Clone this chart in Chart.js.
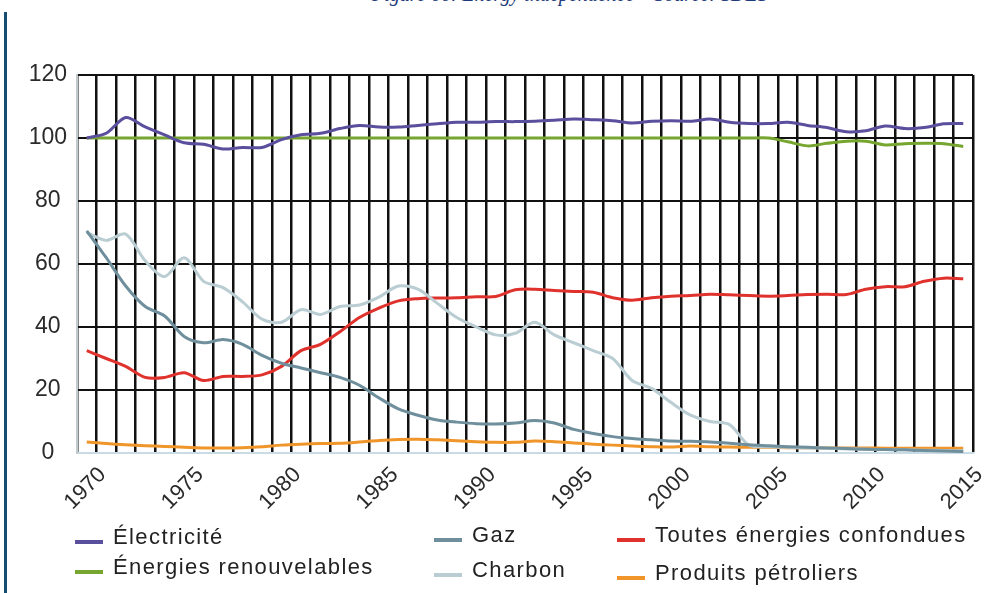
<!DOCTYPE html>
<html lang="fr">
<head>
<meta charset="utf-8">
<title>Indépendance énergétique</title>
<script src="https://cdn.jsdelivr.net/npm/chart.js@4.4.0/dist/chart.umd.min.js"></script>
<style>
  body { margin: 0; background: #fff; width: 1003px; height: 593px; overflow: hidden; position: relative; }
  #titre { position: absolute; left: 372px; top: -16px; font: italic 20px "Liberation Serif", serif; color: #1f3a7a; white-space: nowrap; line-height: 20px; }
  #barre { position: absolute; left: 4px; top: 12px; width: 3px; height: 581px; background: #144d6e; }
  #box { position: absolute; left: 0; top: 0; width: 1003px; height: 593px; }
  .leg { position: absolute; font: 22px "Liberation Sans", Arial, sans-serif; letter-spacing: 1.4px; color: #222; white-space: nowrap; line-height: 24px; }
  .leg .m { position: absolute; top: 15px; width: 28px; height: 4px; }
</style>
</head>
<body>
<div id="titre">Figure 66: Energy independence – Source: SDES</div>
<div id="barre"></div>
<div id="box"><canvas id="chart"></canvas></div>
<div id="legende"></div>
<script>
  // Données (taux d'indépendance énergétique, %)
  const annees = [];
  for (let a = 1970; a <= 2015; a++) annees.push(a);

  const electricite = [100, 101.5, 106.5, 103.5, 101, 98.5, 98, 96.5, 97, 97,
    99.5, 101, 101.5, 103, 104, 103.5, 103.5, 104, 104.5, 105,
    105, 105.2, 105.2, 105.3, 105.6, 106, 105.8, 105.5, 104.8, 105.3,
    105.5, 105.3, 106, 105, 104.6, 104.6, 105, 104, 103.3, 102,
    102.3, 103.8, 103, 103.3, 104.5, 104.6];

  const renouvelables = [100, 100, 100, 100, 100, 100, 100, 100, 100, 100,
    100, 100, 100, 100, 100, 100, 100, 100, 100, 100,
    100, 100, 100, 100, 100, 100, 100, 100, 100, 100,
    100, 100, 100, 100, 100, 100, 98.8, 97.5, 98.3, 99,
    99, 97.8, 98.2, 98.3, 98.2, 97.3];

  const gaz = [70.5, 62, 53, 46.5, 43.5, 37, 35, 36, 34.5, 31,
    28.5, 27, 25.5, 24, 21.5, 17.5, 14, 12, 10.5, 9.8,
    9.3, 9.2, 9.5, 10.3, 9.5, 7.5, 6.2, 5.2, 4.6, 4.2,
    3.8, 3.7, 3.5, 3.1, 2.6, 2.3, 2, 1.8, 1.6, 1.4,
    1.2, 1.1, 1, 0.8, 0.6, 0.5];

  const charbon = [70, 67.5, 69.5, 61, 56, 62, 54.5, 52.5, 48, 42.5,
    41.5, 45.5, 44, 46.5, 47, 49.5, 53, 52, 47.5, 43,
    40, 37.5, 38, 41.5, 37.5, 35, 32.5, 30, 23, 20.5,
    16, 12, 10, 9, 2.5, 2, 1.8, 1.6, 1.5, 1.3,
    1.2, 1.1, 1, 0.9, 0.8, 0.7];

  const toutes = [32.5, 30, 27.5, 24, 24, 25.5, 23, 24.3, 24.3, 24.8,
    27.5, 32.5, 34.5, 38.5, 43, 46, 48.3, 49, 49.2, 49.3,
    49.6, 49.7, 51.8, 52, 51.6, 51.3, 51, 49.3, 48.5, 49.3,
    49.8, 50, 50.4, 50.2, 50, 49.8, 50, 50.3, 50.4, 50.3,
    52, 52.8, 52.8, 54.5, 55.5, 55.3];

  const petroliers = [3.5, 3, 2.6, 2.3, 2.1, 1.8, 1.6, 1.6, 1.7, 2,
    2.5, 2.8, 3, 3.1, 3.5, 4, 4.3, 4.4, 4.2, 3.9,
    3.6, 3.4, 3.4, 3.8, 3.6, 3.2, 2.8, 2.5, 2.2, 2,
    1.9, 2.2, 2, 1.9, 1.8, 1.8, 1.7, 1.7, 1.6, 1.6,
    1.6, 1.5, 1.5, 1.5, 1.5, 1.5];

  const yTicks = [0, 20, 40, 60, 80, 100, 120];

  // Séries + position de la légende (x, y)
  const series = [
    { label: "Électricité", data: electricite, color: "#5a4f9c", leg: [75, 525] },
    { label: "Énergies renouvelables", data: renouvelables, color: "#76a530", leg: [75, 555] },
    { label: "Gaz", data: gaz, color: "#6f8f9c", leg: [434, 523] },
    { label: "Charbon", data: charbon, color: "#b9cdd2", leg: [434, 558] },
    { label: "Toutes énergies confondues", data: toutes, color: "#e0322d", leg: [617, 523] },
    { label: "Produits pétroliers", data: petroliers, color: "#f0952a", leg: [617, 561] },
  ];

  const ctx = document.getElementById("chart").getContext("2d");
  const chart = new Chart(ctx, {
    type: "line",
    data: {
      labels: annees,
      datasets: series.map((s) => ({
        label: s.label,
        data: s.data,
        borderColor: s.color,
        backgroundColor: s.color,
        borderWidth: 3,
        pointRadius: 0,
        tension: 0.3,
        fill: false,
      })),
    },
    options: {
      responsive: true,
      maintainAspectRatio: false,
      animation: false,
      layout: { padding: { top: 75, right: 30, left: 0, bottom: 0 } },
      plugins: { legend: { display: false }, tooltip: { enabled: false } },
      scales: {
        x: {
          type: "category",
          offset: true,
          grid: { offset: true, color: "#111", lineWidth: 2.5, drawTicks: false },
          border: { color: "#c9dbe4", width: 2 },
          ticks: {
            autoSkip: false,
            minRotation: 45,
            maxRotation: 45,
            padding: 9,
            labelOffset: 16,
            color: "#2a2a2a",
            font: { family: "Liberation Sans", size: 22 },
            callback: function (val, i) {
              const a = annees[i];
              return a % 5 === 0 ? String(a) : "";
            },
          },
          afterFit: (scale) => { scale.height = 140; },
        },
        y: {
          min: 0,
          max: 120,
          afterBuildTicks: (scale) => { scale.ticks = yTicks.map((v) => ({ value: v })); },
          grid: { color: "#111", lineWidth: 2, drawTicks: false },
          border: { color: "#c4cbce", width: 2 },
          ticks: {
            crossAlign: "center",
            padding: 10,
            color: "#2a2a2a",
            font: { family: "Liberation Sans", size: 23 },
          },
          afterFit: (scale) => { scale.width = 77; },
        },
      },
    },
  });

  // Légende en HTML (3 colonnes x 2 lignes)
  const legende = document.getElementById("legende");
  series.forEach((s) => {
    const div = document.createElement("div");
    div.className = "leg";
    div.style.left = s.leg[0] + "px";
    div.style.top = s.leg[1] + "px";
    div.style.paddingLeft = "38px";
    div.innerHTML = `<span class="m" style="left:0;background:${s.color}"></span>${s.label}`;
    legende.appendChild(div);
  });
</script>
</body>
</html>
